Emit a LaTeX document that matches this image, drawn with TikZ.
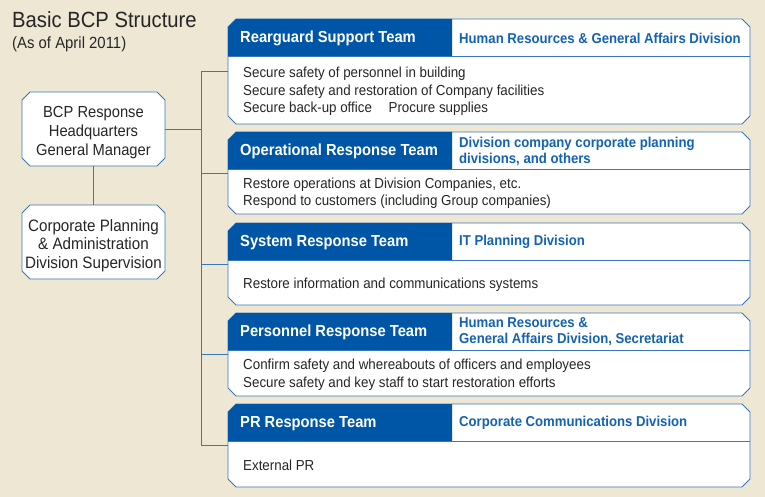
\documentclass[tikz,border=0pt]{standalone}
\usepackage{fontspec}
\setmainfont{Liberation Sans}[FakeStretch=0.92]
\usepackage{tikz}
\usetikzlibrary{positioning}
\definecolor{bgbeige}{RGB}{237,231,212}
\definecolor{hdblue}{RGB}{0,86,166}
\definecolor{dvblue}{RGB}{20,98,178}
\definecolor{lineblue}{RGB}{58,118,188}
\definecolor{txtgray}{RGB}{38,38,38}
\pgfdeclarelayer{back}
\pgfdeclarelayer{boxes}
\pgfsetlayers{back,boxes,main}
\tikzset{cut/.style={draw=lineblue, fill=white, line width=0.9pt}, % outline with cut corners
teambox/.style={rectangle, minimum width=522pt, inner sep=0pt, outer sep=0pt},
teamtext/.style={anchor=west, inner sep=0pt, text=white, font=\fontsize{16}{18}\selectfont\bfseries},
divtext/.style={anchor=west, inner sep=0pt, align=left, text=dvblue, font=\fontsize{14.3}{16}\selectfont\bfseries},
bodytext/.style={anchor=west, inner sep=0pt, align=left, text=txtgray, font=\fontsize{14.5}{17.5}\selectfont},
mgrbox/.style={rectangle, minimum width=143pt, minimum height=74pt, align=center, text=txtgray, inner sep=0pt, outer sep=0pt},
link/.style={draw=lineblue, line width=0.9pt}}
% draws the white box with its four corners cut, behind node #1
\newcommand{\cutbox}[1]{%
\begin{pgfonlayer}{boxes}
\draw[cut] ([yshift=-8pt]#1.north west) -- ([xshift=8pt]#1.north west)
  -- ([xshift=-8pt]#1.north east) -- ([yshift=-8pt]#1.north east)
  -- ([yshift=8pt]#1.south east) -- ([xshift=-8pt]#1.south east)
  -- ([xshift=8pt]#1.south west) -- ([yshift=8pt]#1.south west) -- cycle;
\end{pgfonlayer}}

\begin{document}
\begin{tikzpicture}[x=1pt, y=-1pt]
\begin{pgfonlayer}{back}
\fill[bgbeige] (0,0) rectangle (765,497);
\end{pgfonlayer}
\useasboundingbox (0,0) rectangle (765,497);
\node[anchor=base west, inner sep=0pt, text=txtgray, font=\fontsize{22}{24}\selectfont] (title) at (12,28) {Basic BCP Structure};
\node[anchor=base west, inner sep=0pt, text=txtgray, font=\fontsize{16.2}{18}\selectfont] (asof) at (12,49) {(As of April 2011)};

\coordinate (trunk) at (201,0);

\node[mgrbox, font=\fontsize{16}{19}\selectfont] (hq) at (93.5,129) {\rule{0pt}{18.5pt}BCP Response\\Headquarters\\General Manager};
\node[mgrbox, font=\fontsize{16.5}{18.5}\selectfont, below=39pt of hq] (sup) {\rule{0pt}{19pt}Corporate Planning\\\& Administration\\Division Supervision};
\cutbox{hq}
\cutbox{sup}
\draw[link] (hq.south) -- (sup.north);
\draw[link] (hq.east) -- (hq.east -| trunk);

\foreach \nm/\ytop/\hgt/\team/\dvn/\bodytxt in {
rear/19/105/{Rearguard Support Team}/{Human Resources \& General Affairs Division}/{Secure safety of personnel in building\\Secure safety and restoration of Company facilities\\Secure back-up office\hspace{1.15em}Procure supplies},
oper/132/82/{Operational Response Team}/{Division company corporate planning\\divisions, and others}/{Restore operations at Division Companies, etc.\\Respond to customers (including Group companies)},
sys/223/82/{System Response Team}/{IT Planning Division}/{Restore information and communications systems},
pers/313/83/{Personnel Response Team}/{Human Resources \&\\General Affairs Division, Secretariat}/{Confirm safety and whereabouts of officers and employees\\Secure safety and key staff to start restoration efforts},
pr/404/83/{PR Response Team}/{Corporate Communications Division}/{External PR}}
{
\node[teambox, minimum height=\hgt*1pt, anchor=north] (\nm) at (489,\ytop) {};
\cutbox{\nm}
% blue bar, top left corner cut like the box
\fill[hdblue] ([yshift=-8pt]\nm.north west) -- ([xshift=8pt]\nm.north west) -- ++(216,0)
  -- ++(0,37.5) -- ([yshift=-37.5pt]\nm.north west) -- cycle;
\draw[link] ([yshift=-37.5pt]\nm.north west) -- ([yshift=-37.5pt]\nm.north east);
\node[teamtext] (\nm-tm) at (240,\ytop+19.5) {\team};
\node[divtext] (\nm-dv) at (459,\ytop+19) {\dvn};
\node[bodytext] (\nm-bd) at (243,\ytop+39+\hgt/2-18.75) {\bodytxt};
\draw[link] (\nm.west) -- (\nm.west -| trunk);
}
\draw[link] (rear.west -| trunk) -- (pr.west -| trunk);
\end{tikzpicture}
\end{document}
